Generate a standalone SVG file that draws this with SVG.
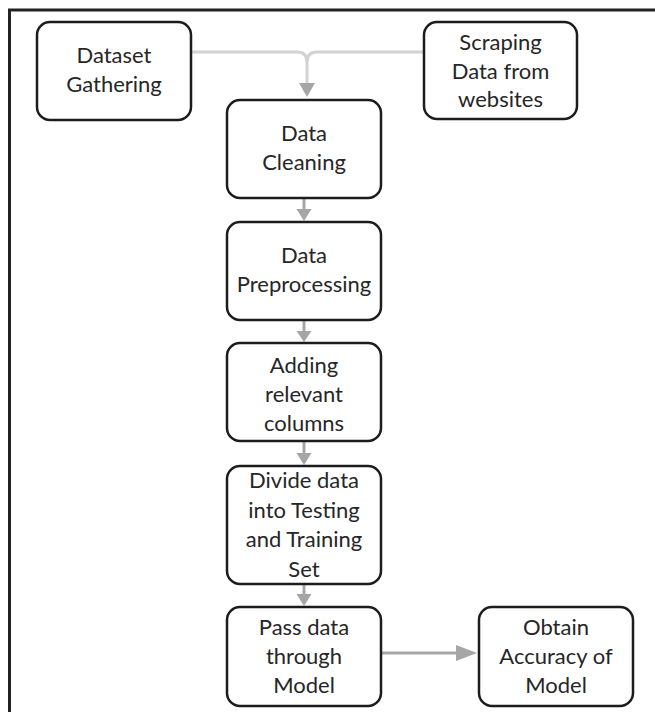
<svg xmlns="http://www.w3.org/2000/svg" width="655" height="712" viewBox="0 0 655 712">
<style>
.box{fill:#fff;stroke:#1c1c1c;stroke-width:2.5}
.t{font-family:Lato,"Open Sans","Liberation Sans",sans-serif;font-size:22px;fill:#262626;text-anchor:middle}
.lt{fill:none;stroke:#d2d2d2;stroke-width:3}
.ln{fill:none;stroke:#a6a6a6;stroke-width:3}
.hd{fill:#a6a6a6}
</style>
<rect width="655" height="712" fill="#fff"/>
<g id="frame">
<path d="M9.5 712 V10 H655" fill="none" stroke="#222" stroke-width="3"/>
</g>
<g id="connectors">
<path class="lt" d="M191 52 H297 Q307 52 307 62 V84"/>
<path class="lt" d="M424 52 H317 Q307 52 307 62"/>
<polygon class="hd" points="299,83 315,83 307,97"/>
<line class="ln" x1="304" y1="198" x2="304" y2="210"/>
<polygon class="hd" points="296.5,209 311.5,209 304,221"/>
<line class="ln" x1="304" y1="320" x2="304" y2="332"/>
<polygon class="hd" points="296.5,331 311.5,331 304,342"/>
<line class="ln" x1="304" y1="441" x2="304" y2="454"/>
<polygon class="hd" points="296.5,453 311.5,453 304,465"/>
<line class="ln" x1="304" y1="584" x2="304" y2="595"/>
<polygon class="hd" points="296.5,594 311.5,594 304,606"/>
<line class="ln" x1="381" y1="653" x2="458" y2="653"/>
<polygon class="hd" points="456,645 456,661 477,653"/>
</g>
<g id="dataset-gathering">
<rect class="box" x="37" y="22" width="154" height="98" rx="13"/>
<text class="t" x="114" y="63">Dataset</text>
<text class="t" x="114" y="92">Gathering</text>
</g>
<g id="scraping">
<rect class="box" x="424" y="22" width="153" height="97" rx="13"/>
<text class="t" x="500.5" y="50">Scraping</text>
<text class="t" x="500.5" y="79">Data from</text>
<text class="t" x="500.5" y="107">websites</text>
</g>
<g id="data-cleaning">
<rect class="box" x="227" y="100" width="154" height="98" rx="13"/>
<text class="t" x="304" y="141">Data</text>
<text class="t" x="304" y="170">Cleaning</text>
</g>
<g id="data-preprocessing">
<rect class="box" x="227" y="222" width="154" height="98" rx="13"/>
<text class="t" x="304" y="263">Data</text>
<text class="t" x="304" y="292">Preprocessing</text>
</g>
<g id="adding-columns">
<rect class="box" x="227" y="343" width="154" height="98" rx="13"/>
<text class="t" x="304" y="373">Adding</text>
<text class="t" x="304" y="402">relevant</text>
<text class="t" x="304" y="431">columns</text>
</g>
<g id="divide-data">
<rect class="box" x="227" y="466" width="154" height="118" rx="13"/>
<text class="t" x="304" y="488">Divide data</text>
<text class="t" x="304" y="518">into Testing</text>
<text class="t" x="304" y="547">and Training</text>
<text class="t" x="304" y="577">Set</text>
</g>
<g id="pass-data">
<rect class="box" x="227" y="607" width="154" height="99" rx="13"/>
<text class="t" x="304" y="635">Pass data</text>
<text class="t" x="304" y="664">through</text>
<text class="t" x="304" y="693">Model</text>
</g>
<g id="obtain-accuracy">
<rect class="box" x="479" y="607" width="154" height="99" rx="13"/>
<text class="t" x="556" y="635">Obtain</text>
<text class="t" x="556" y="664">Accuracy of</text>
<text class="t" x="556" y="693">Model</text>
</g>
</svg>
